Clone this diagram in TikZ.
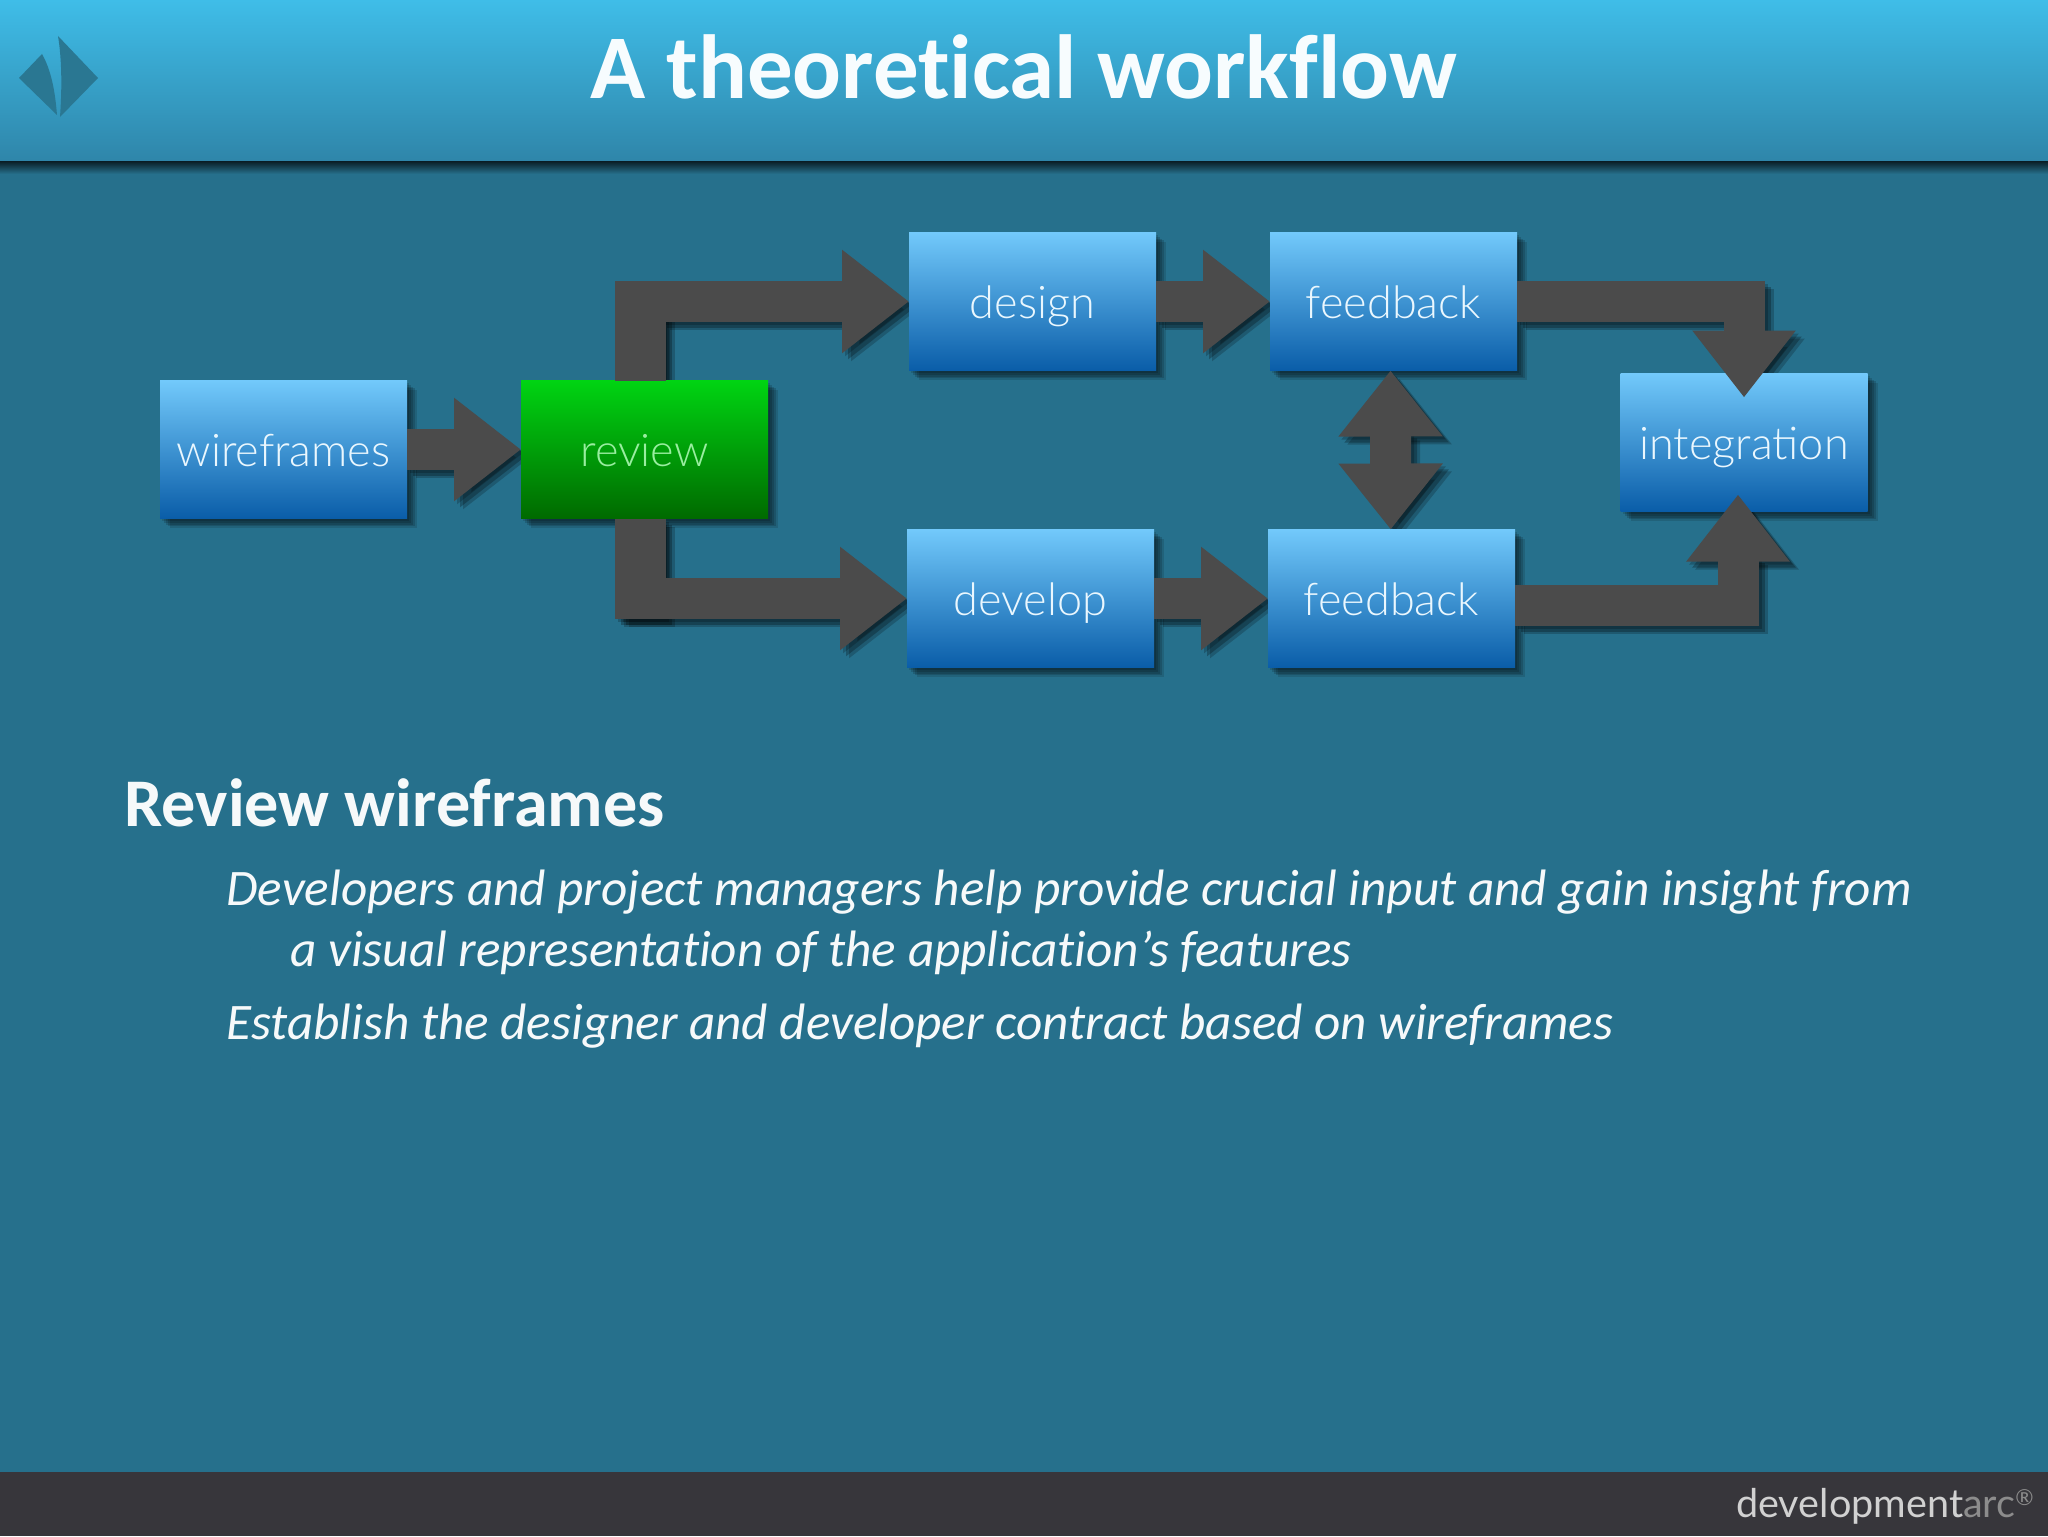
\documentclass[tikz,border=0pt]{standalone}
\usepackage{fontspec}
\setmainfont{Carlito}[Ligatures=NoCommon]
\newfontfamily\boxfont{Lato}[UprightFont=* Light]
\newfontfamily\brandfont{Lato}
\usepackage{tikz}
\usetikzlibrary{arrows.meta,calc,positioning,shadows,backgrounds}
\definecolor{slidebg}{HTML}{26708C}
\definecolor{headtop}{HTML}{3FBDE8}
\definecolor{headbot}{HTML}{2F86AA}
\definecolor{footbar}{HTML}{37363B}
\definecolor{linkgray}{HTML}{4B4B4B}
\definecolor{boxtop}{HTML}{72C9FB}
\definecolor{boxmid}{HTML}{4095D6}
\definecolor{boxbot}{HTML}{0A5DA8}
\definecolor{greentop}{HTML}{00D412}
\definecolor{greenmid}{HTML}{009E0A}
\definecolor{greenbot}{HTML}{006A00}
\definecolor{logoblue}{HTML}{2A7792}
\tikzset{
    node distance =1 cm and 57pt,
    softshadow/.style={
        drop shadow={shadow xshift=1pt,shadow yshift=-1pt,fill=black,opacity=.13},
        drop shadow={shadow xshift=2pt,shadow yshift=-2pt,fill=black,opacity=.15},
        drop shadow={shadow xshift=3pt,shadow yshift=-3pt,fill=black,opacity=.15},
        drop shadow={shadow xshift=4pt,shadow yshift=-3.5pt,fill=black,opacity=.15},
        drop shadow={shadow xshift=5pt,shadow yshift=-4.5pt,fill=black,opacity=.12}},
    flowbox/.style ={rectangle, outer sep=0pt, minimum width=123.5pt, minimum height=69pt,
        softshadow, top color=boxtop, middle color=boxmid, bottom color=boxbot,
        text=white!85!boxtop, text height=20pt, text depth=3.5pt,
        font=\boxfont\fontsize{22.5}{24}\selectfont},
    greenbox/.style={flowbox, top color=greentop, middle color=greenmid, bottom color=greenbot,
        text=white!60!greentop},
    flowlink/.style={line width=20.5pt, -{Triangle[length=33.5pt,width=49.5pt]}},
    stem/.style={-, line width=25.5pt},
    bothways/.style={{Triangle[length=33pt,width=50pt]}-{Triangle[length=33pt,width=50pt]}},
    vh/.style={to path={|- (\tikztotarget)}},
    hv/.style={to path={-| (\tikztotarget)}},
    bodyline/.style={anchor=base west, inner sep=0pt, text=white!96!slidebg,
        font=\itshape\fontsize{25.6}{30}\selectfont}
}
\newcommand{\flowlinks}{
        \path (wireframes) edge (review);
        \path ([xshift=-2pt]review.north) edge[vh] (design.west);
        \path ([xshift=-2pt]review.north) edge[stem] ([xshift=-2pt,yshift=49.75pt]review.north);
        \path ([xshift=-2pt]review.south) edge[vh] (develop.west);
        \path ([xshift=-2pt]review.south) edge[stem] ([xshift=-2pt,yshift=-50.25pt]review.south);
        \path (design) edge (feedback);
        \path (develop) edge (feedbackb);
        \path (feedback.east) edge[hv] ([yshift=-12pt]integration.north);
        \path ([yshift=-3.25pt]feedbackb.east) edge[hv] ([xshift=-3pt,yshift=8.5pt]integration.south);
        \path[bothways] ([xshift=-1.5pt]feedback.south) edge ([xshift=-0.4pt]feedbackb.north);
}
\begin{document}
\begin{tikzpicture}[x=0.5pt,y=-0.5pt]
        \useasboundingbox (0,0) rectangle (2048,1536);
        % slide frame
        \begin{pgfonlayer}{background}
        \fill[slidebg] (0,0) rectangle (2048,1536);
        \shade[top color=black!80!slidebg, bottom color=slidebg] (0,160) rectangle (2048,174);
        \shade[top color=headtop, bottom color=headbot] (0,0) rectangle (2048,160);
        \fill[footbar] (0,1472) rectangle (2048,1536);
        \fill[logoblue] (19,78) -- (42,54) .. controls (51,70) and (55,90) .. (57,115) -- cycle;
        \fill[logoblue] (58,36) -- (98,78) -- (60,117) .. controls (62,90) and (62,60) .. (58,36) -- cycle;
        \end{pgfonlayer}

        \node[anchor=base, inner sep=0pt, text=white!96!headtop, font=\bfseries\fontsize{45.5}{48}\selectfont] (title) at (1024,98) {A theoretical workflow};

        % the boxes
        \node[flowbox] (wireframes) at (283.5,449.5) {wireframes};
        \node[greenbox] (review) [right =of wireframes] {review};
        \node[flowbox] (design) at (1032.5,301.5) {design};
        \node[flowbox] (feedback) [right =of design] {feedback};
        \node[flowbox] (develop) at (1030.5,598.5) {develop};
        \node[flowbox] (feedbackb) [right =of develop] {feedback};
        \node[flowbox] (integration) at (1744,442.5) {integration};

        % the arrows, their shadows go under the boxes
        \begin{pgfonlayer}{background}
        \begin{scope}[flowlink, black, opacity=.2, transform canvas={shift={(1.5pt,-1.5pt)}}]
            \flowlinks
        \end{scope}
        \begin{scope}[flowlink, black, opacity=.25, transform canvas={shift={(3pt,-3pt)}}]
            \flowlinks
        \end{scope}
        \begin{scope}[flowlink, black, opacity=.2, transform canvas={shift={(4.5pt,-4pt)}}]
            \flowlinks
        \end{scope}
        \end{pgfonlayer}
        \begin{scope}[flowlink, linkgray]
            \flowlinks
        \end{scope}

        % the text below
        \node[anchor=base west, inner sep=0pt, text=white!96!slidebg, font=\bfseries\fontsize{34.1}{38}\selectfont] (heading) at (124,826) {Review wireframes};
        \node[bodyline] (lineone) at (226,905) {Developers and project managers help provide crucial input and gain insight from};
        \node[bodyline] (linetwo) at (290,966) {a visual representation of the application’s features};
        \node[bodyline] (linethree) at (226,1039) {Establish the designer and developer contract based on wireframes};

        \node[anchor=base east, inner sep=0pt, font=\brandfont\fontsize{19.8}{24}\selectfont] (brand) at (2034,1517) {\textcolor{black!18}{development}\textcolor{black!45}{arc}\textcolor{black!45}{\raisebox{.55ex}{\fontsize{11}{12}\selectfont ®}}};
    \end{tikzpicture}
\end{document}
